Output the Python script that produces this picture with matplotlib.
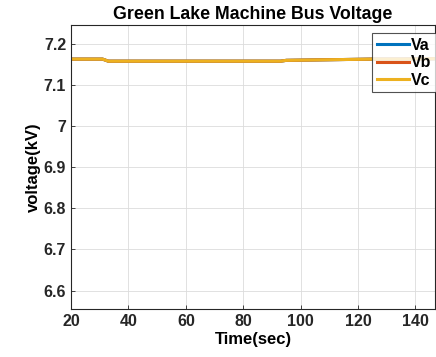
import matplotlib
matplotlib.use("Agg")
import matplotlib.pyplot as plt

# Machine bus phase voltages (kV) over time (sec)
time_sec = [20, 31, 33, 60, 93, 95, 105, 115, 125, 135, 147]
va_kv = [7.163, 7.163, 7.158, 7.158, 7.158, 7.160, 7.161, 7.162, 7.163, 7.163, 7.164]
vb_kv = [7.163, 7.163, 7.158, 7.158, 7.158, 7.160, 7.161, 7.162, 7.163, 7.163, 7.164]
vc_kv = [7.163, 7.163, 7.158, 7.158, 7.158, 7.160, 7.161, 7.162, 7.163, 7.163, 7.164]
series_labels = ["Va", "Vb", "Vc"]
x_ticks = [20, 40, 60, 80, 100, 120, 140]
y_ticks = [6.6, 6.7, 6.8, 6.9, 7.0, 7.1, 7.2]
y_tick_labels = ["6.6", "6.7", "6.8", "6.9", "7", "7.1", "7.2"]

plt.rcParams["font.family"] = ["Liberation Sans", "DejaVu Sans"]
plt.rcParams["font.weight"] = "bold"

fig = plt.figure(figsize=(4.36, 3.57), dpi=100)
ax = fig.add_axes([71 / 436, 48 / 357, 364 / 436, 284 / 357])

colors = ["#0072BD", "#D95319", "#EDB120"]
for vals, lab, c in zip([va_kv, vb_kv, vc_kv], series_labels, colors):
    ax.plot(time_sec, vals, color=c, lw=2.2, label=lab)

ax.set_xlim(20, 146.8)
ax.set_ylim(6.555, 7.246)
ax.set_xticks(x_ticks)
ax.set_yticks(y_ticks)
ax.set_yticklabels(y_tick_labels)
ax.tick_params(direction="in", length=3, width=0.6, labelsize=11.5, colors="#262626")
ax.grid(True, color="#dcdcdc", lw=0.6)
ax.set_axisbelow(True)
for s in ax.spines.values():
    s.set_color("#262626")
    s.set_linewidth(0.8)

ax.set_title("Green Lake Machine Bus Voltage", fontsize=12.8, fontweight="bold", pad=4)
ax.set_xlabel("Time(sec)", fontsize=12, fontweight="bold", labelpad=2)
ax.set_ylabel("voltage(kV)", fontsize=12, fontweight="bold", labelpad=2)

leg = ax.legend(loc="upper left", bbox_to_anchor=(301 / 364, 1 - 8 / 284),
                fontsize=11.5, frameon=True, fancybox=False, handlelength=2.0,
                handletextpad=0.15, borderpad=0.3, labelspacing=0.15,
                borderaxespad=0)
leg.get_frame().set_edgecolor("#262626")
leg.get_frame().set_linewidth(0.8)
for t in leg.get_texts():
    t.set_fontweight("bold")

fig.savefig("out.png", dpi=100)
